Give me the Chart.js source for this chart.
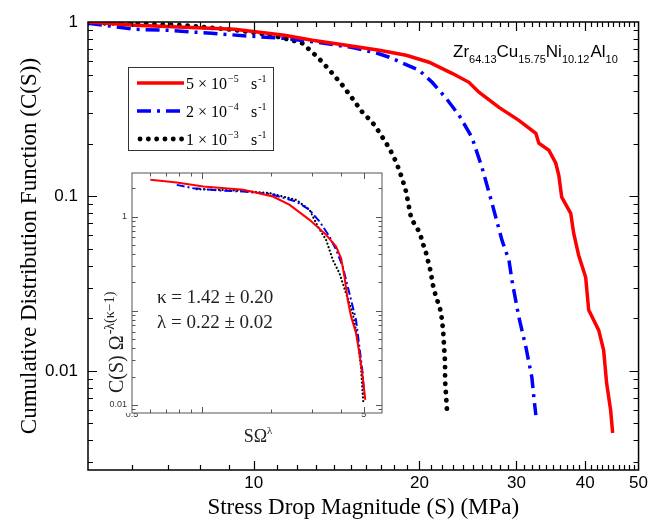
<!DOCTYPE html>
<html><head><meta charset="utf-8">
<script src="https://cdn.jsdelivr.net/npm/chart.js@4/dist/chart.umd.min.js"></script>
<style>
html,body{margin:0;padding:0;background:#fff;}
#wrap{position:relative;width:651px;height:520px;overflow:hidden;}
#main{position:absolute;left:0;top:0;width:651px;height:520px;}
#inset{position:absolute;left:100px;top:160px;width:290px;height:290px;}
</style></head><body>
<div id="wrap"><canvas id="main" width="651" height="520"></canvas><canvas id="inset" width="290" height="290"></canvas></div>
<script>
// ---------- main chart data ----------
const redS = [5.00,6.08,7.49,9.23,11.37,12.78,14.73,16.91,18.92,20.82,22.92,24.60,25.65,27.89,30.31,32.54,32.95,34.36,35.37,35.82,36.26,37.65,38.12,38.92,40.08,40.59,42.32,43.21,43.75,44.49,44.87];
const redC = [1.00,0.957,0.932,0.908,0.839,0.785,0.735,0.688,0.645,0.588,0.508,0.451,0.396,0.324,0.273,0.230,0.202,0.184,0.155,0.132,0.099,0.080,0.0615,0.046,0.0344,0.0223,0.0171,0.0131,0.00851,0.00595,0.0044];
const blueS = [5.00,5.37,6.08,6.98,8.39,9.91,11.37,13.05,15.04,16.77,17.63,19.97,21.09,22.36,23.60,24.91,25.97,27.09,28.24,29.08,29.44,30.31,31.21,32.00,32.27,32.54];
const blueC = [0.983,0.957,0.908,0.896,0.861,0.828,0.806,0.765,0.716,0.662,0.628,0.529,0.451,0.365,0.292,0.218,0.147,0.0914,0.0561,0.0431,0.0331,0.0203,0.0137,0.0092,0.00707,0.00557];
const blackS = [5.00,5.67,6.53,7.49,8.60,9.35,9.91,10.77,11.76,12.26,12.78,13.33,13.89,14.49,15.10,15.75,16.42,16.91,17.63,18.15,18.60,18.92,19.16,19.32,19.64,20.06,20.23,20.48,20.65,20.82,21.00,21.09,21.26,21.44,21.71,21.90,21.99,22.08,22.17,22.26,22.26,22.36,22.45];
const blackC = [0.983,0.983,0.970,0.957,0.920,0.896,0.873,0.839,0.785,0.755,0.670,0.588,0.508,0.434,0.365,0.304,0.266,0.233,0.189,0.157,0.127,0.106,0.0856,0.0750,0.0684,0.0615,0.0546,0.0498,0.0448,0.0403,0.0363,0.0322,0.0294,0.0264,0.0238,0.0214,0.0190,0.0171,0.0137,0.0111,0.00885,0.00707,0.00580];
const seriesNames = ["5 × 10^-5 s^-1", "2 × 10^-4 s^-1", "1 × 10^-3 s^-1"];
const legendMantissa = ["5", "2", "1"];
const legendExp = ["\u22125", "\u22124", "\u22123"];
const xTickLabels = [10, 20, 30, 40, 50];
const yTickLabels = [1, 0.1, 0.01];

// ---------- inset data ----------
const insRedX = [0.600,0.780,1.016,1.510,2.031,2.396,2.920,3.444,3.802,3.996,4.130,4.268,4.412,4.635,4.791,4.951,5.083];
const insRedY = [2.452,2.296,2.083,1.920,1.631,1.330,0.922,0.639,0.480,0.361,0.231,0.130,0.0867,0.0577,0.0354,0.0200,0.0113];
const insBlueX = [0.780,0.920,1.198,1.510,1.966,2.560,2.920,3.225,3.560,3.802,4.062,4.339,4.635,4.791,4.951,5.033];
const insBlueY = [2.169,2.000,1.888,1.843,1.740,1.443,1.177,0.885,0.613,0.443,0.294,0.153,0.0799,0.0416,0.0217,0.0123];
const insBlackX = [0.951,1.198,1.510,1.966,2.560,2.920,3.172,3.444,3.679,3.930,4.198,4.485,4.712,4.870,4.951,4.983];
const insBlackY = [1.951,1.920,1.873,1.769,1.503,1.177,0.783,0.565,0.347,0.250,0.153,0.0941,0.0490,0.0255,0.0133,0.0108];
const insXTickLabels = [0.5, 5];
const insYTickLabels = [1, 0.01];

const pts = (xs, ys) => xs.map((v, i) => ({x: v, y: ys[i]}));
const isPow10 = v => Math.abs(Math.log10(v) - Math.round(Math.log10(v))) < 1e-9;
const near = (arr, v) => arr.some(a => Math.abs(a - v) < 1e-9);

function logTicks(min, max) {
  const out = [];
  for (let e = Math.floor(Math.log10(min)); e <= Math.ceil(Math.log10(max)); e++) {
    for (let m = 1; m <= 9; m++) {
      const v = +(m * Math.pow(10, e)).toPrecision(6);
      if (v >= min - 1e-12 && v <= max + 1e-12) out.push({value: v});
    }
  }
  return out;
}

function frameTicks(opts) {
  return {
    id: 'frameTicks',
    afterDatasetsDraw(chart) {
      const {ctx, chartArea: a, scales: {x, y}} = chart;
      ctx.save();
      ctx.strokeStyle = opts.color;
      ctx.lineWidth = opts.tickWidth;
      ctx.beginPath();
      x.ticks.forEach(t => {
        const p = Math.round(x.getPixelForValue(t.value)) + 0.5;
        if (p <= a.left + 1 || p >= a.right - 1) return;
        const L = opts.majorX(t.value) ? opts.major : opts.minor;
        ctx.moveTo(p, a.bottom); ctx.lineTo(p, a.bottom - L);
        ctx.moveTo(p, a.top); ctx.lineTo(p, a.top + L);
      });
      y.ticks.forEach(t => {
        const p = Math.round(y.getPixelForValue(t.value)) + 0.5;
        if (p <= a.top + 1 || p >= a.bottom - 1) return;
        const L = opts.majorY(t.value) ? opts.major : opts.minor;
        ctx.moveTo(a.left, p); ctx.lineTo(a.left + L, p);
        ctx.moveTo(a.right, p); ctx.lineTo(a.right - L, p);
      });
      ctx.stroke();
      ctx.lineWidth = opts.frameWidth;
      ctx.strokeRect(a.left, a.top, a.right - a.left, a.bottom - a.top);
      ctx.restore();
    }
  };
}

function drawSup(ctx, parts, x, y) {
  // parts: [text, fontSize, dy, family, extraGap]
  let cx = x;
  parts.forEach(p => {
    ctx.font = p[1] + 'px ' + p[3];
    ctx.fillText(p[0], cx, y + p[2]);
    cx += ctx.measureText(p[0]).width + (p[4] || 0);
  });
  return cx;
}

const SERIF = '"Liberation Serif", "Times New Roman", serif';
const SANS = '"Liberation Sans", Arial, sans-serif';

const mainDecor = {
  id: 'mainDecor',
  afterDraw(chart) {
    const ctx = chart.ctx;
    const ds = chart.data.datasets;
    ctx.save();
    ctx.fillStyle = '#000';
    ctx.textBaseline = 'alphabetic';
    // alloy label
    drawSup(ctx, [
      ['Zr', 17, 0, SANS], ['64.13', 11, 6, SANS],
      ['Cu', 17, 0, SANS], ['15.75', 11, 6, SANS],
      ['Ni', 17, 0, SANS], ['10.12', 11, 6, SANS, 1],
      ['Al', 17, 0, SANS], ['10', 11, 6, SANS]
    ], 453, 57);
    // legend box
    ctx.strokeStyle = '#333';
    ctx.lineWidth = 1;
    ctx.strokeRect(128.5, 67.5, 145, 83);
    const rows = [83, 111, 139];
    rows.forEach((ry, i) => {
      const d = ds[i];
      ctx.save();
      ctx.strokeStyle = d.borderColor;
      ctx.lineWidth = d.borderWidth;
      ctx.lineCap = d.borderCapStyle || 'butt';
      ctx.setLineDash(d.borderDash || []);
      ctx.beginPath();
      ctx.moveTo(i === 2 ? 140 : 137, ry);
      ctx.lineTo(184, ry);
      ctx.stroke();
      ctx.restore();
      ctx.fillStyle = '#000';
      drawSup(ctx, [
        [legendMantissa[i] + ' \u00D7 10', 16, 0, SERIF, 1],
        [legendExp[i], 10, -7, SERIF]
      ], 186, ry + 6);
      drawSup(ctx, [['s', 16, 0, SERIF, 1], ['-1', 10, -7, SERIF]], 251, ry + 6);
    });
    ctx.restore();
  }
};

Chart.defaults.animation = false;

new Chart(document.getElementById('main'), {
  type: 'line',
  data: {
    datasets: [
      {label: seriesNames[0], data: pts(redS, redC), borderColor: '#ff0000', borderWidth: 3.5, pointRadius: 0, tension: 0},
      {label: seriesNames[1], data: pts(blueS, blueC), borderColor: '#0000ff', borderWidth: 3.5, borderDash: [14, 6, 3, 6], pointRadius: 0, tension: 0},
      {label: seriesNames[2], data: pts(blackS, blackC), borderColor: '#000000', borderWidth: 4.8, borderDash: [0.1, 8.2], borderCapStyle: 'round', pointRadius: 0, tension: 0}
    ]
  },
  options: {
    responsive: false,
    animation: false,
    events: [],
    layout: {padding: {left: 0, top: 22, right: 11, bottom: 0}},
    plugins: {legend: {display: false}, tooltip: {enabled: false}},
    scales: {
      x: {
        type: 'logarithmic', min: 5, max: 50,
        afterBuildTicks: s => { const t = []; for (let v = 5; v <= 50; v++) t.push({value: v}); s.ticks = t; },
        afterFit: s => { s.height = 50; },
        grid: {display: false, drawTicks: false},
        border: {display: false},
        ticks: {autoSkip: false, maxRotation: 0, minRotation: 0, padding: 3, color: '#000',
          font: {family: SANS, size: 17},
          callback: v => near(xTickLabels, v) ? String(v) : ''},
        title: {display: true, text: 'Stress Drop Magnitude (S) (MPa)', color: '#000',
          font: {family: SERIF, size: 23, lineHeight: 1}, padding: {top: 0, bottom: 1}}
      },
      y: {
        type: 'logarithmic', min: 0.0027, max: 1,
        afterBuildTicks: s => { s.ticks = logTicks(0.0027, 1); },
        afterFit: s => { s.width = 88; },
        grid: {display: false, drawTicks: false},
        border: {display: false},
        ticks: {autoSkip: false, padding: 10, color: '#000',
          font: {family: SANS, size: 17},
          callback: v => near(yTickLabels, v) ? String(v) : ''},
        title: {display: true, text: 'Cumulative Distribution Function (C(S))', color: '#000',
          font: {family: SERIF, size: 23, lineHeight: 1}, padding: {top: 18, bottom: 0}}
      }
    }
  },
  plugins: [frameTicks({color: '#000', tickWidth: 1.2, frameWidth: 1.5, major: 9, minor: 5,
    majorX: v => near(xTickLabels, v), majorY: v => isPow10(v)}), mainDecor]
});

// ---------- inset ----------
const insetDecor = {
  id: 'insetDecor',
  beforeDatasetsDraw(chart) {
    const {ctx, chartArea: a} = chart;
    ctx.save(); ctx.fillStyle = '#fff';
    ctx.fillRect(a.left, a.top, a.right - a.left, a.bottom - a.top);
    ctx.restore();
  },
  afterDraw(chart) {
    const ctx = chart.ctx;
    ctx.save();
    ctx.fillStyle = '#222';
    ctx.textBaseline = 'alphabetic';
    ctx.font = '19px ' + SERIF;
    ctx.fillText('\u03BA = 1.42 \u00B1 0.20', 57, 143);
    ctx.fillText('\u03BB = 0.22 \u00B1 0.02', 57, 168);
    // x title
    ctx.font = '18px ' + SERIF; const w1 = ctx.measureText('S\u03A9').width;
    ctx.font = '11px ' + SERIF; const w2 = ctx.measureText('\u03BB').width;
    drawSup(ctx, [['S\u03A9', 18, 0, SERIF], ['\u03BB', 11, -8, SERIF]], 158 - (w1 + w2) / 2, 282);
    // y title (rotated)
    ctx.translate(23, 233);
    ctx.rotate(-Math.PI / 2);
    drawSup(ctx, [['C(S) \u03A9', 20, 0, SERIF, 1], ['-\u03BB(\u03BA\u22121)', 14, -9, SERIF]], 0, 0);
    ctx.restore();
  }
};

new Chart(document.getElementById('inset'), {
  type: 'line',
  data: {
    datasets: [
      {data: pts(insRedX, insRedY), borderColor: '#ff0000', borderWidth: 2, pointRadius: 0, tension: 0},
      {data: pts(insBlueX, insBlueY), borderColor: '#0000ff', borderWidth: 2, borderDash: [8, 3, 2, 3], pointRadius: 0, tension: 0},
      {data: pts(insBlackX, insBlackY), borderColor: '#000000', borderWidth: 2.2, borderDash: [0.1, 3.6], borderCapStyle: 'round', pointRadius: 0, tension: 0}
    ]
  },
  options: {
    responsive: false,
    animation: false,
    events: [],
    layout: {padding: {left: 0, top: 13, right: 8, bottom: 0}},
    plugins: {legend: {display: false}, tooltip: {enabled: false}},
    scales: {
      x: {
        type: 'logarithmic', min: 0.5, max: 6,
        afterBuildTicks: s => { s.ticks = logTicks(0.5, 6); },
        afterFit: s => { s.height = 37; },
        grid: {display: false, drawTicks: false},
        border: {display: false},
        ticks: {autoSkip: false, maxRotation: 0, minRotation: 0, padding: -4, color: '#333',
          font: {family: SANS, size: 9},
          callback: v => near(insXTickLabels, v) ? String(v) : ''}
      },
      y: {
        type: 'logarithmic', min: 0.0082, max: 2.9,
        afterBuildTicks: s => { s.ticks = logTicks(0.0082, 2.9); },
        afterFit: s => { s.width = 32; },
        grid: {display: false, drawTicks: false},
        border: {display: false},
        ticks: {autoSkip: false, padding: 5, color: '#333',
          font: {family: SANS, size: 9},
          callback: v => near(insYTickLabels, v) ? String(v) : ''}
      }
    }
  },
  plugins: [insetDecor, frameTicks({color: '#555', tickWidth: 1, frameWidth: 1, major: 6, minor: 3.5,
    majorX: v => near(insXTickLabels, v) || isPow10(v), majorY: v => isPow10(v)})]
});
</script>
</body></html>
